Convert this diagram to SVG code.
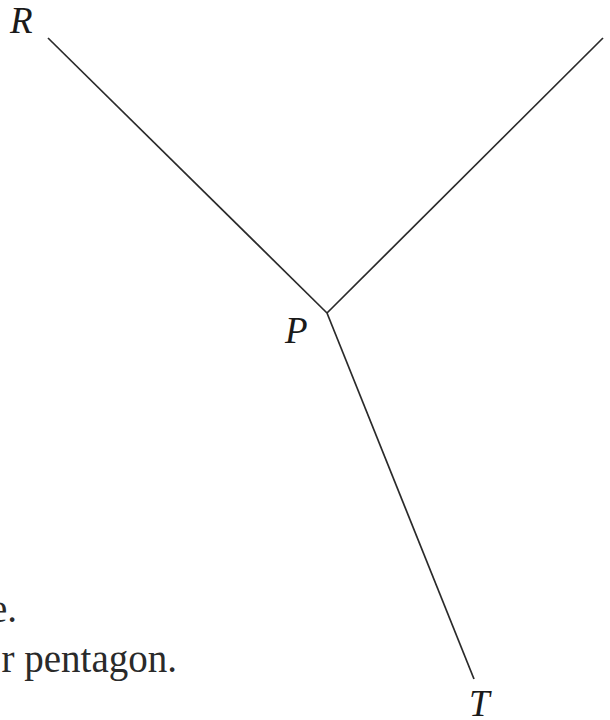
<svg xmlns="http://www.w3.org/2000/svg" width="610" height="720" viewBox="0 0 610 720">
<style>
.edge{stroke:#2a2a2a;stroke-width:1.7;fill:none;stroke-linecap:butt}
.lbl{font-family:"Liberation Serif","Times New Roman",serif;font-style:italic;font-size:37px;fill:#1a1a1a}
.body{font-family:"Liberation Serif","Times New Roman",serif;font-size:39px;fill:#2a2a2a}
</style>
<rect width="610" height="720" fill="#ffffff"/>
<g id="connectors">
<line class="edge" x1="48" y1="38" x2="327" y2="313"/>
<line class="edge" x1="327" y1="313" x2="603" y2="38"/>
<line class="edge" x1="327" y1="313" x2="474" y2="679"/>
</g>
<g id="node-R"><text class="lbl" x="10" y="33">R</text></g>
<g id="node-P"><text class="lbl" x="285" y="343">P</text></g>
<g id="node-T"><text class="lbl" x="469" y="716">T</text></g>
<g id="caption">
<text class="body" x="17" y="622" text-anchor="end">e.</text>
<text class="body" x="177" y="672" text-anchor="end">r pentagon.</text>
</g>
</svg>
